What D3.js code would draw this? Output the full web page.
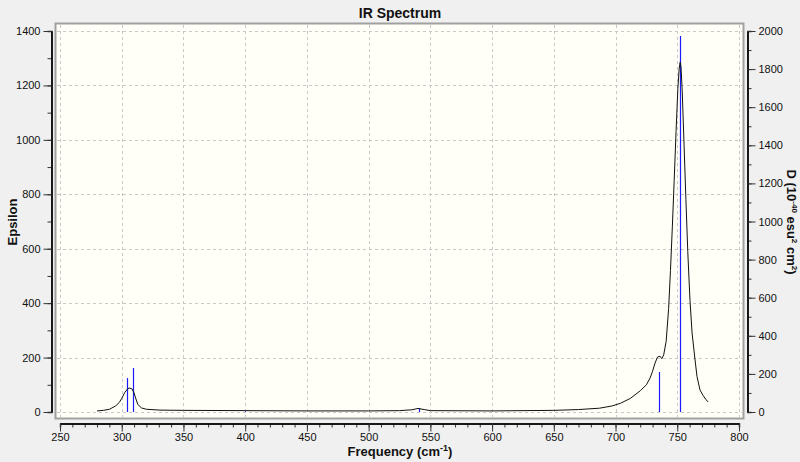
<!DOCTYPE html>
<html>
<head>
<meta charset="utf-8">
<script src="https://cdn.jsdelivr.net/npm/d3@7"></script>
<style>
  body { margin: 0; background: #f0f0f0; }
  svg { display: block; font-family: "Liberation Sans", Arial, sans-serif; }
</style>
</head>
<body>
<div id="chart"></div>
<script>
// spectrum curve (frequency cm-1, epsilon)
const curveFreq = [280, 285, 290, 295, 298, 300, 302.5, 305, 306.5, 308.3, 310, 311, 313, 316, 320, 331, 350, 400, 450, 500, 525, 535, 540, 545, 550, 600, 650, 670, 687, 697, 704, 712, 720, 725, 728, 730, 732, 734, 736, 737.5, 739, 741, 743, 744.5, 746, 747.5, 749, 750.5, 751.5, 752.3, 753, 754, 755.5, 757, 758.5, 760.3, 762, 764.4, 766, 768.4, 771, 773, 775];
const curveEps  = [4, 6, 10, 22, 35, 50, 72, 86, 88, 85, 70, 55, 28, 15, 10, 7, 6, 5, 4, 4, 5, 8, 13, 9, 5, 4, 6, 9, 14, 22, 32, 50, 78, 100, 125, 150, 180, 202, 205, 196, 210, 260, 380, 520, 680, 850, 1030, 1190, 1260, 1285, 1270, 1180, 980, 780, 590, 410, 290, 191, 130, 81, 60, 47, 37];

// stick spectrum (frequency, D in 1e-40 esu^2 cm^2)
const stickFreq = [304, 309, 400, 541, 735, 752];
const stickD    = [178, 231, 4, 20, 210, 1974];

// axis ticks
const xTicks = d3.range(250, 801, 50);
const xMinor = d3.range(250, 801, 10);
const epsTicks = d3.range(0, 1401, 200);
const epsMinor = d3.range(0, 1401, 100);
const dTicks = d3.range(0, 2001, 200);
const dMinor = d3.range(0, 2001, 100);

const W = 800, H = 462;
const svg = d3.select('#chart').append('svg')
    .attr('width', W)
    .attr('height', H);

svg.append('rect').attr('width', W).attr('height', H).attr('fill', '#f0f0f0');

const x = d3.scaleLinear().domain([250, 800]).range([60, 739]);
const yEps = d3.scaleLinear().domain([0, 1400]).range([412, 31]);
const yD = d3.scaleLinear().domain([0, 2000]).range([412, 31]);

// plot frame
svg.append('rect')
    .attr('x', 55.5).attr('y', 23.5)
    .attr('width', 688).attr('height', 395)
    .attr('fill', '#fffff7')
    .attr('stroke', '#a0a0a0')
    .attr('stroke-width', 2);

// grid
const grid = svg.append('g')
    .attr('stroke', '#c8c8c8')
    .attr('stroke-dasharray', '3,3')
    .attr('stroke-width', 1);
xTicks.forEach(t => {
    grid.append('line')
        .attr('x1', Math.round(x(t)) + 0.5).attr('x2', Math.round(x(t)) + 0.5)
        .attr('y1', 25).attr('y2', 417);
});
epsTicks.forEach(t => {
    grid.append('line')
        .attr('x1', 57).attr('x2', 742)
        .attr('y1', Math.round(yEps(t)) + 0.5).attr('y2', Math.round(yEps(t)) + 0.5);
});

// sticks
svg.append('g')
    .attr('class', 'sticks')
    .selectAll('line')
    .data(stickFreq)
    .enter()
    .append('line')
    .attr('x1', d => Math.round(x(d)) + 0.5)
    .attr('x2', d => Math.round(x(d)) + 0.5)
    .attr('y1', yD(0))
    .attr('y2', (d, i) => yD(stickD[i]))
    .style('stroke', '#1a1aff')
    .style('stroke-width', 1.2);

// curve
const line = d3.line()
    .x(d => x(d[0]))
    .y(d => yEps(d[1]));
svg.append('path')
    .datum(curveFreq.map((f, i) => [f, curveEps[i]]))
    .attr('fill', 'none')
    .attr('stroke', '#111')
    .attr('stroke-width', 1)
    .attr('d', line);

// axes
function styleAxis(g) {
    g.select('.domain').attr('stroke', '#333');
    g.selectAll('.tick line').attr('stroke', '#333');
    g.selectAll('text').attr('fill', '#111').style('font-size', '11px');
}
const fmt = d3.format('d');

const yLeft = svg.append('g').attr('transform', 'translate(51.5,0)');
yLeft.call(d3.axisLeft(yEps).tickValues(epsMinor).tickSize(4).tickFormat(''));
yLeft.append('g').call(d3.axisLeft(yEps).tickValues(epsTicks).tickSize(8).tickSizeOuter(0).tickPadding(3).tickFormat(fmt));
yLeft.call(styleAxis);

const yRight = svg.append('g').attr('transform', 'translate(747.5,0)');
yRight.call(d3.axisRight(yD).tickValues(dMinor).tickSize(4).tickFormat(''));
yRight.append('g').call(d3.axisRight(yD).tickValues(dTicks).tickSize(8).tickSizeOuter(0).tickPadding(3).tickFormat(fmt));
yRight.call(styleAxis);

const xAxis = svg.append('g').attr('transform', 'translate(0,423.5)');
xAxis.call(d3.axisBottom(x).tickValues(xMinor).tickSize(4).tickFormat(''));
xAxis.append('g').call(d3.axisBottom(x).tickValues(xTicks).tickSize(8).tickSizeOuter(0).tickPadding(2).tickFormat(fmt));
xAxis.call(styleAxis);
svg.selectAll('.domain').attr('stroke-width', 1.5);

// titles
svg.append('text')
    .attr('x', 400).attr('y', 18)
    .attr('text-anchor', 'middle')
    .style('font-size', '14px').style('font-weight', 'bold')
    .attr('fill', '#111')
    .text('IR Spectrum');

svg.append('text')
    .attr('transform', 'translate(17,222) rotate(-90)')
    .attr('text-anchor', 'middle')
    .style('font-size', '13px').style('font-weight', 'bold')
    .attr('fill', '#111')
    .text('Epsilon');

const xl = svg.append('text')
    .attr('x', 400).attr('y', 456)
    .attr('text-anchor', 'middle')
    .style('font-size', '13px').style('font-weight', 'bold')
    .attr('fill', '#111');
xl.append('tspan').text('Frequency (cm');
xl.append('tspan').attr('dy', -5).style('font-size', '9px').text('-1');
xl.append('tspan').attr('dy', 5).text(')');

const rl = svg.append('text')
    .attr('transform', 'translate(787,222) rotate(90)')
    .attr('text-anchor', 'middle')
    .style('font-size', '13px').style('font-weight', 'bold')
    .attr('fill', '#111');
rl.append('tspan').text('D (10');
rl.append('tspan').attr('dy', -5).style('font-size', '8px').text('-40');
rl.append('tspan').attr('dy', 5).text(' esu');
rl.append('tspan').attr('dy', -5).style('font-size', '8px').text('2');
rl.append('tspan').attr('dy', 5).text(' cm');
rl.append('tspan').attr('dy', -5).style('font-size', '8px').text('2');
rl.append('tspan').attr('dy', 5).text(')');
</script>
</body>
</html>
